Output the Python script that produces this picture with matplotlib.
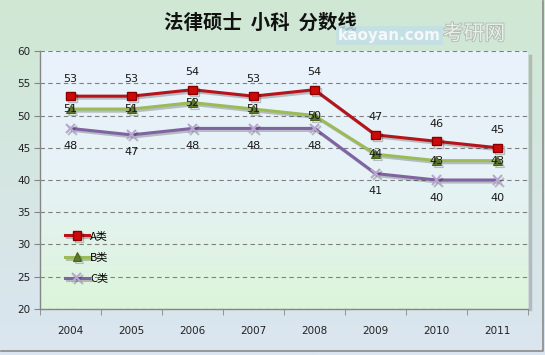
import matplotlib
matplotlib.use("Agg")
import matplotlib.pyplot as plt
import matplotlib.patheffects as pe
import numpy as np
from matplotlib.colors import LinearSegmentedColormap

plt.rcParams['font.family'] = ['DejaVu Sans', 'Noto Sans CJK SC']

years = ['2004', '2005', '2006', '2007', '2008', '2009', '2010', '2011']
a_vals = [53, 53, 54, 53, 54, 47, 46, 45]
b_vals = [51, 51, 52, 51, 50, 44, 43, 43]
c_vals = [48, 47, 48, 48, 48, 41, 40, 40]
series_names = ['A类', 'B类', 'C类']
title = '法律硕士  小科  分数线'

fig = plt.figure(figsize=(5.45, 3.55), dpi=100)

# figure background gradient
bg = fig.add_axes([0, 0, 1, 1], zorder=-10)
cm_bg = LinearSegmentedColormap.from_list('bg', ['#cfe8d3', '#dbe5f1'])
bg.imshow(np.linspace(0, 1, 256).reshape(-1, 1), aspect='auto', cmap=cm_bg, extent=[0, 1, 0, 1])
bg.set_xlim(0, 1); bg.set_ylim(0, 1)
bg.axis('off')
# outer border
bg.plot([0.002, 0.996, 0.996], [0.01, 0.01, 0.998], color='#8a8a8a', lw=1.2, transform=bg.transAxes, clip_on=False)

ax = fig.add_axes([0.0734, 0.1296, 0.8954, 0.7267])
cm_ax = LinearSegmentedColormap.from_list('ax', ['#eaf3fc', '#e6f2f6', '#dcf5da'])
ax.imshow(np.linspace(0, 1, 256).reshape(-1, 1), aspect='auto', cmap=cm_ax,
          extent=[0, 1, 0, 1], transform=ax.transAxes, zorder=0)

x = np.arange(len(years))
shadow = [pe.SimpleLineShadow(offset=(1.5, -1.5), shadow_color='k', alpha=0.22), pe.Normal()]

la, = ax.plot(x, a_vals, color='#b5141c', lw=2.2, marker='s', ms=6, mfc='#cc0a0a', mec='#8a0000', mew=1,
              label=series_names[0], zorder=5, path_effects=shadow)
lb, = ax.plot(x, b_vals, color='#9bbb59', lw=2.2, marker='^', ms=6, mfc='#5f7a2a', mec='#4a6120', mew=0.8,
              label=series_names[1], zorder=4, path_effects=shadow)
lc, = ax.plot(x, c_vals, color='#8064a2', lw=2.2, marker='x', ms=6.5, mec='#b8a6d0', mew=1.5,
              label=series_names[2], zorder=3, path_effects=shadow)

lab_kw = dict(ha='center', fontsize=8, color='#1a1a1a', zorder=6)
for xi, v in zip(x, a_vals):
    ax.annotate(str(v), (xi, v), xytext=(0, 9), textcoords='offset points', va='bottom', **lab_kw)
for xi, v in zip(x, b_vals):
    ax.annotate(str(v), (xi, v), xytext=(0, 0), textcoords='offset points', va='center', **lab_kw)
for xi, v in zip(x, c_vals):
    ax.annotate(str(v), (xi, v), xytext=(0, -9), textcoords='offset points', va='top', **lab_kw)

ax.set_xlim(-0.5, len(years) - 0.5)
ax.set_ylim(20, 60)
ax.set_yticks(np.arange(20, 61, 5))
ax.set_xticks(x)
ax.set_xticklabels(years)
ax.set_xticks(np.arange(-0.5, len(years)), minor=True)
ax.tick_params(axis='x', which='major', length=0, pad=12, labelsize=7.5, colors='#222222')
ax.tick_params(axis='x', which='minor', length=4, color='#868686', direction='out')
ax.tick_params(axis='y', length=4, color='#868686', labelsize=7.5, colors='#222222', pad=3)
ax.grid(axis='y', linestyle=(0, (4, 3)), color='#808080', lw=0.8, zorder=1)
for s in ['top', 'right']:
    ax.spines[s].set_visible(False)
for s in ['left', 'bottom']:
    ax.spines[s].set_color('#868686')
    ax.spines[s].set_linewidth(1)

# right drop shadow of plot area
ax.plot([1.004, 1.004], [0, 0.98], color='#9aa09a', lw=2.5, alpha=0.6, transform=ax.transAxes, clip_on=False)

leg = ax.legend(handles=[la, lb, lc], loc='lower left', bbox_to_anchor=(0.03, 0.06), frameon=False,
                handlelength=2.2, handletextpad=0.1, labelspacing=1.0,
                prop={'family': ['Noto Sans CJK SC'], 'size': 8})

fig.text(0.478, 0.935, title, ha='center', va='center', fontsize=14, fontweight='bold',
         family=['Noto Sans CJK SC'], color='#111111')

# watermark
fig.text(0.715, 0.9, 'kaoyan.com', ha='center', va='center', fontsize=11, color='#f4f8fa', fontweight='bold',
         bbox=dict(boxstyle='square,pad=0.15', fc='#c4dfe6', ec='none', alpha=0.85))
fig.text(0.87, 0.905, '考研网', ha='center', va='center', fontsize=15, color='#e8efe8',
         family=['Noto Sans CJK SC'],
         path_effects=[pe.withStroke(linewidth=1.2, foreground='#b0b8b0')])

fig.savefig('out.png', dpi=100)
